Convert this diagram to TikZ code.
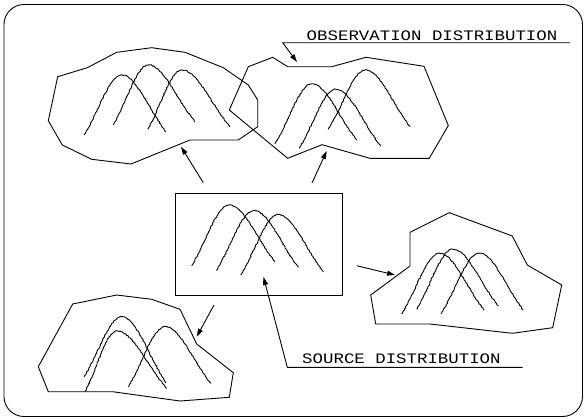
\documentclass[tikz,border=0pt]{standalone}
\usepackage{fontspec}
\setmonofont{Liberation Mono}
\usetikzlibrary{arrows.meta,decorations.pathmorphing}
\tikzset{
 outline/.style={line width=0.9pt, line join=miter},
 bell/.style={line width=0.9pt, decorate, decoration={random steps,segment length=1.4pt,amplitude=0.45pt}},
 arr/.style={line width=0.9pt, -{Triangle[length=8pt,width=5pt]}},
 lbl/.style={font=\fontsize{14.5}{15}\ttfamily, xscale=1.2, inner sep=0, anchor=base west}
}
\newcommand{\bellc}[6]{%
 \pgfmathsetmacro\bax{#1+0.4*(#3-#1)}\pgfmathsetmacro\bay{#2-0.4*(#2-#4)}%
 \pgfmathsetmacro\bbx{#3-0.33*(#3-#1)}%
 \pgfmathsetmacro\bcx{#3+0.33*(#5-#3)}%
 \pgfmathsetmacro\bdx{#5-0.4*(#5-#3)}\pgfmathsetmacro\bdy{#6-0.4*(#6-#4)}%
 \draw[bell] (#1,#2) .. controls (\bax,\bay) and (\bbx,#4) .. (#3,#4) .. controls (\bcx,#4) and (\bdx,\bdy) .. (#5,#6);}
\begin{document}
\begin{tikzpicture}[x=1pt,y=-1pt]
\useasboundingbox (0,0) rectangle (584,418);
% outer frame
\draw[outline, rounded corners=20pt] (4,4.5) rectangle (582.5,416.5);

% top-left cloud
\draw[outline] (57.7,76.7) -- (87.3,67.7) -- (116.7,52.3) -- (151.7,47.7) -- (185,52.3) -- (223.3,67.7) -- (248.3,85) -- (257.7,100) -- (257.7,126.7) -- (238.3,140) -- (190,140) -- (131,164) -- (91.7,159.3) -- (62.3,145) -- (48.3,120.7) -- cycle;
\bellc{84}{135}{121.7}{75}{166}{131.7}
\bellc{113.3}{125}{148.3}{65}{195}{121.7}
\bellc{147.7}{129.3}{181.7}{70}{230}{126.7}

% top-right cloud
\draw[outline] (229.3,110) -- (248.3,66.7) -- (272.7,57.3) -- (287.7,66.7) -- (331.7,66.7) -- (366,57.3) -- (424,66.3) -- (448.3,125.5) -- (429.3,158.3) -- (370,158.3) -- (322,144.7) -- (287.7,158.3) -- cycle;
\bellc{275}{144}{311.7}{84}{356.7}{140}
\bellc{299.3}{148.3}{335.5}{89.3}{380.7}{146}
\bellc{328.3}{129.3}{365.5}{70}{410}{126.7}

% source box
\node[draw, line width=0.9pt, inner sep=0, minimum width=166.7pt, minimum height=101.7pt, anchor=north west] (src) at (175,193.3) {};
\bellc{191.7}{265.5}{229}{205}{275}{261.7}
\bellc{216.3}{270.3}{254}{210.7}{298.3}{267.3}
\bellc{240.7}{275}{278.3}{214.5}{323.3}{271.7}

% bottom-left cloud
\draw[outline] (72.7,304) -- (116.7,295) -- (151.7,299.3) -- (180,309.3) -- (196.7,344) -- (233.3,372.7) -- (229.3,397.3) -- (180,401) -- (112.7,391.7) -- (48.3,391.7) -- (38.3,366.7) -- cycle;
\bellc{84}{376.7}{121.7}{316.7}{166}{382.7}
\bellc{85}{391.7}{116.7}{331}{166.7}{388.3}
\bellc{128.3}{386.7}{165}{326.7}{210.7}{383.3}

% right cloud
\draw[outline] (370.7,295) -- (410,266) -- (410,232.3) -- (449.3,212.7) -- (512.3,236) -- (527.3,265) -- (561.7,285) -- (552.7,327.7) -- (512.3,333.3) -- (430,324) -- (375.7,324) -- cycle;
\bellc{401.7}{314}{439.3}{253.3}{484}{310}
\bellc{416.7}{309.3}{452.7}{249.3}{498.3}{306}
\bellc{441}{314}{479.3}{253.3}{523.3}{310}

% arrows from source
\coordinate (a1s) at (203.3,182.7); \coordinate (a1e) at (181,146.7);
\coordinate (a2s) at (312,183);     \coordinate (a2e) at (326.7,151);
\coordinate (a3s) at (214,305);     \coordinate (a3e) at (196.7,336.7);
\coordinate (a4s) at (356.7,265.7); \coordinate (a4e) at (395,275);
\draw[arr] (a1s) -- (a1e);
\draw[arr] (a2s) -- (a2e);
\draw[arr] (a3s) -- (a3e);
\draw[arr] (a4s) -- (a4e);

% labels
\node[lbl] (obs) at (306.5,40) {OBSERVATION DISTRIBUTION};
\coordinate (obsR) at (570,42.7); \coordinate (obsL) at (282.7,42.7); \coordinate (obsT) at (297,62);
\draw[arr] (obsR) -- (obsL) -- (obsT);
\node[lbl] (srclbl) at (302,363.5) {SOURCE DISTRIBUTION};
\coordinate (srcR) at (522.7,367.3); \coordinate (srcL) at (287.3,367.3); \coordinate (srcT) at (263.5,277);
\draw[arr] (srcR) -- (srcL) -- (srcT);
\end{tikzpicture}
\end{document}
